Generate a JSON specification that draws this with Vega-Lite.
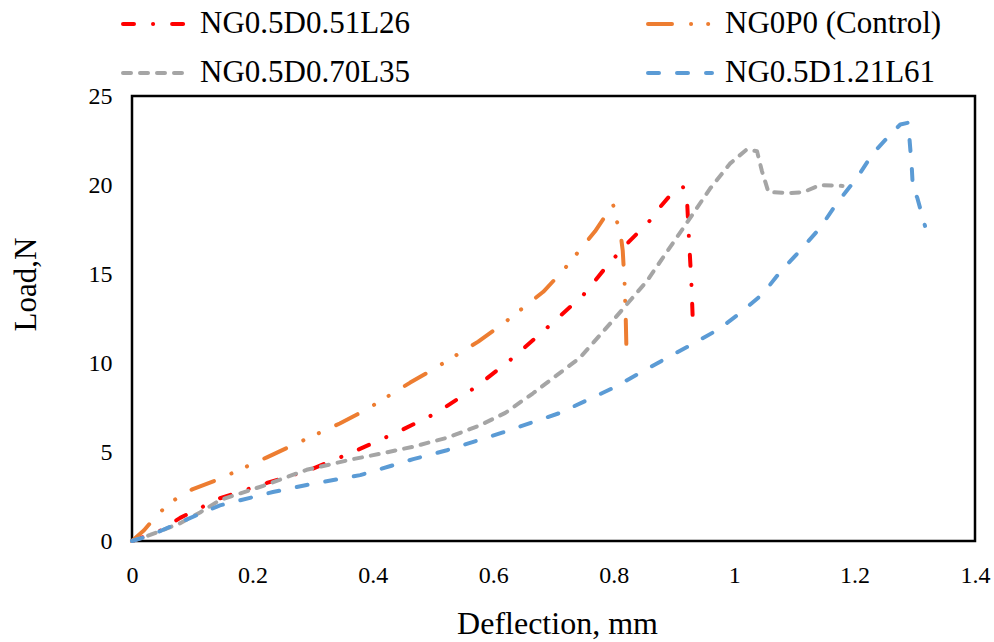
{
  "$schema": "https://vega.github.io/schema/vega-lite/v6.json",
  "width": 843,
  "height": 445,
  "autosize": {"type": "none"},
  "padding": {"left": 132, "top": 96, "right": 19, "bottom": 101},
  "background": "white",
  "config": {
    "view": {"stroke": "black", "strokeWidth": 2.5},
    "font": "Liberation Serif"
  },
  "data": {
    "values": [
      {"s": "NG0.5D0.51L26", "i": 0, "x": 0, "y": 0},
      {"s": "NG0.5D0.51L26", "i": 1, "x": 0.046, "y": 0.56},
      {"s": "NG0.5D0.51L26", "i": 2, "x": 0.08, "y": 1.3},
      {"s": "NG0.5D0.51L26", "i": 3, "x": 0.113, "y": 1.85},
      {"s": "NG0.5D0.51L26", "i": 4, "x": 0.146, "y": 2.4},
      {"s": "NG0.5D0.51L26", "i": 5, "x": 0.224, "y": 3.26},
      {"s": "NG0.5D0.51L26", "i": 6, "x": 0.296, "y": 4.0},
      {"s": "NG0.5D0.51L26", "i": 7, "x": 0.367, "y": 5.0},
      {"s": "NG0.5D0.51L26", "i": 8, "x": 0.44, "y": 6.1},
      {"s": "NG0.5D0.51L26", "i": 9, "x": 0.506, "y": 7.2},
      {"s": "NG0.5D0.51L26", "i": 10, "x": 0.573, "y": 8.7},
      {"s": "NG0.5D0.51L26", "i": 11, "x": 0.633, "y": 10.3},
      {"s": "NG0.5D0.51L26", "i": 12, "x": 0.69, "y": 12.0},
      {"s": "NG0.5D0.51L26", "i": 13, "x": 0.749, "y": 13.8},
      {"s": "NG0.5D0.51L26", "i": 14, "x": 0.79, "y": 15.5},
      {"s": "NG0.5D0.51L26", "i": 15, "x": 0.825, "y": 16.8},
      {"s": "NG0.5D0.51L26", "i": 16, "x": 0.86, "y": 18.0},
      {"s": "NG0.5D0.51L26", "i": 17, "x": 0.878, "y": 18.8},
      {"s": "NG0.5D0.51L26", "i": 18, "x": 0.897, "y": 19.55},
      {"s": "NG0.5D0.51L26", "i": 19, "x": 0.915, "y": 19.9},
      {"s": "NG0.5D0.51L26", "i": 20, "x": 0.922, "y": 19.0},
      {"s": "NG0.5D0.51L26", "i": 21, "x": 0.924, "y": 17.6},
      {"s": "NG0.5D0.51L26", "i": 22, "x": 0.929, "y": 14.5},
      {"s": "NG0.5D0.51L26", "i": 23, "x": 0.932, "y": 11.8},
      {"s": "NG0P0 (Control)", "i": 0, "x": 0, "y": 0},
      {"s": "NG0P0 (Control)", "i": 1, "x": 0.02, "y": 0.6},
      {"s": "NG0P0 (Control)", "i": 2, "x": 0.035, "y": 1.2},
      {"s": "NG0P0 (Control)", "i": 3, "x": 0.055, "y": 1.9},
      {"s": "NG0P0 (Control)", "i": 4, "x": 0.078, "y": 2.5},
      {"s": "NG0P0 (Control)", "i": 5, "x": 0.1, "y": 2.9},
      {"s": "NG0P0 (Control)", "i": 6, "x": 0.146, "y": 3.5},
      {"s": "NG0P0 (Control)", "i": 7, "x": 0.224, "y": 4.7},
      {"s": "NG0P0 (Control)", "i": 8, "x": 0.268, "y": 5.4},
      {"s": "NG0P0 (Control)", "i": 9, "x": 0.345, "y": 6.6},
      {"s": "NG0P0 (Control)", "i": 10, "x": 0.39, "y": 7.4},
      {"s": "NG0P0 (Control)", "i": 11, "x": 0.462, "y": 8.9},
      {"s": "NG0P0 (Control)", "i": 12, "x": 0.503, "y": 9.7},
      {"s": "NG0P0 (Control)", "i": 13, "x": 0.575, "y": 11.2},
      {"s": "NG0P0 (Control)", "i": 14, "x": 0.616, "y": 12.2},
      {"s": "NG0P0 (Control)", "i": 15, "x": 0.683, "y": 14.0},
      {"s": "NG0P0 (Control)", "i": 16, "x": 0.716, "y": 15.2},
      {"s": "NG0P0 (Control)", "i": 17, "x": 0.769, "y": 17.4},
      {"s": "NG0P0 (Control)", "i": 18, "x": 0.799, "y": 18.9},
      {"s": "NG0P0 (Control)", "i": 19, "x": 0.805, "y": 18.0},
      {"s": "NG0P0 (Control)", "i": 20, "x": 0.812, "y": 17.1},
      {"s": "NG0P0 (Control)", "i": 21, "x": 0.815, "y": 16.3},
      {"s": "NG0P0 (Control)", "i": 22, "x": 0.818, "y": 14.5},
      {"s": "NG0P0 (Control)", "i": 23, "x": 0.82, "y": 12.5},
      {"s": "NG0P0 (Control)", "i": 24, "x": 0.821, "y": 11.0},
      {"s": "NG0.5D0.70L35", "i": 0, "x": 0, "y": 0},
      {"s": "NG0.5D0.70L35", "i": 1, "x": 0.03, "y": 0.34},
      {"s": "NG0.5D0.70L35", "i": 2, "x": 0.08, "y": 1.0},
      {"s": "NG0.5D0.70L35", "i": 3, "x": 0.113, "y": 1.6},
      {"s": "NG0.5D0.70L35", "i": 4, "x": 0.146, "y": 2.3},
      {"s": "NG0.5D0.70L35", "i": 5, "x": 0.218, "y": 3.1},
      {"s": "NG0.5D0.70L35", "i": 6, "x": 0.29, "y": 4.0},
      {"s": "NG0.5D0.70L35", "i": 7, "x": 0.367, "y": 4.6},
      {"s": "NG0.5D0.70L35", "i": 8, "x": 0.412, "y": 4.9},
      {"s": "NG0.5D0.70L35", "i": 9, "x": 0.467, "y": 5.3},
      {"s": "NG0.5D0.70L35", "i": 10, "x": 0.523, "y": 5.8},
      {"s": "NG0.5D0.70L35", "i": 11, "x": 0.578, "y": 6.5},
      {"s": "NG0.5D0.70L35", "i": 12, "x": 0.62, "y": 7.2},
      {"s": "NG0.5D0.70L35", "i": 13, "x": 0.666, "y": 8.3},
      {"s": "NG0.5D0.70L35", "i": 14, "x": 0.744, "y": 10.3},
      {"s": "NG0.5D0.70L35", "i": 15, "x": 0.799, "y": 12.4},
      {"s": "NG0.5D0.70L35", "i": 16, "x": 0.855, "y": 14.6},
      {"s": "NG0.5D0.70L35", "i": 17, "x": 0.922, "y": 17.9},
      {"s": "NG0.5D0.70L35", "i": 18, "x": 0.96, "y": 19.8},
      {"s": "NG0.5D0.70L35", "i": 19, "x": 0.993, "y": 21.2},
      {"s": "NG0.5D0.70L35", "i": 20, "x": 1.021, "y": 22.0},
      {"s": "NG0.5D0.70L35", "i": 21, "x": 1.038, "y": 21.9},
      {"s": "NG0.5D0.70L35", "i": 22, "x": 1.046, "y": 20.8},
      {"s": "NG0.5D0.70L35", "i": 23, "x": 1.057, "y": 19.6},
      {"s": "NG0.5D0.70L35", "i": 24, "x": 1.093, "y": 19.55},
      {"s": "NG0.5D0.70L35", "i": 25, "x": 1.115, "y": 19.6},
      {"s": "NG0.5D0.70L35", "i": 26, "x": 1.143, "y": 20.0},
      {"s": "NG0.5D0.70L35", "i": 27, "x": 1.18, "y": 19.95},
      {"s": "NG0.5D1.21L61", "i": 0, "x": 0, "y": 0},
      {"s": "NG0.5D1.21L61", "i": 1, "x": 0.03, "y": 0.3},
      {"s": "NG0.5D1.21L61", "i": 2, "x": 0.063, "y": 0.8},
      {"s": "NG0.5D1.21L61", "i": 3, "x": 0.108, "y": 1.46},
      {"s": "NG0.5D1.21L61", "i": 4, "x": 0.146, "y": 2.0},
      {"s": "NG0.5D1.21L61", "i": 5, "x": 0.234, "y": 2.75},
      {"s": "NG0.5D1.21L61", "i": 6, "x": 0.29, "y": 3.15},
      {"s": "NG0.5D1.21L61", "i": 7, "x": 0.379, "y": 3.7},
      {"s": "NG0.5D1.21L61", "i": 8, "x": 0.428, "y": 4.2},
      {"s": "NG0.5D1.21L61", "i": 9, "x": 0.467, "y": 4.6},
      {"s": "NG0.5D1.21L61", "i": 10, "x": 0.523, "y": 5.1},
      {"s": "NG0.5D1.21L61", "i": 11, "x": 0.616, "y": 6.1},
      {"s": "NG0.5D1.21L61", "i": 12, "x": 0.711, "y": 7.2},
      {"s": "NG0.5D1.21L61", "i": 13, "x": 0.799, "y": 8.6},
      {"s": "NG0.5D1.21L61", "i": 14, "x": 0.889, "y": 10.3},
      {"s": "NG0.5D1.21L61", "i": 15, "x": 0.922, "y": 10.9},
      {"s": "NG0.5D1.21L61", "i": 16, "x": 0.972, "y": 11.85},
      {"s": "NG0.5D1.21L61", "i": 17, "x": 1.01, "y": 12.8},
      {"s": "NG0.5D1.21L61", "i": 18, "x": 1.048, "y": 13.9},
      {"s": "NG0.5D1.21L61", "i": 19, "x": 1.076, "y": 15.1},
      {"s": "NG0.5D1.21L61", "i": 20, "x": 1.109, "y": 16.3},
      {"s": "NG0.5D1.21L61", "i": 21, "x": 1.143, "y": 17.6},
      {"s": "NG0.5D1.21L61", "i": 22, "x": 1.171, "y": 19.0},
      {"s": "NG0.5D1.21L61", "i": 23, "x": 1.204, "y": 20.4},
      {"s": "NG0.5D1.21L61", "i": 24, "x": 1.231, "y": 21.8},
      {"s": "NG0.5D1.21L61", "i": 25, "x": 1.264, "y": 23.0},
      {"s": "NG0.5D1.21L61", "i": 26, "x": 1.276, "y": 23.4},
      {"s": "NG0.5D1.21L61", "i": 27, "x": 1.289, "y": 23.5},
      {"s": "NG0.5D1.21L61", "i": 28, "x": 1.295, "y": 21.0},
      {"s": "NG0.5D1.21L61", "i": 29, "x": 1.297, "y": 19.7},
      {"s": "NG0.5D1.21L61", "i": 30, "x": 1.304, "y": 19.3},
      {"s": "NG0.5D1.21L61", "i": 31, "x": 1.317, "y": 17.7}
    ]
  },
  "mark": {"type": "line", "strokeWidth": 4, "strokeCap": "round", "strokeJoin": "round"},
  "encoding": {
    "x": {
      "field": "x", "type": "quantitative",
      "scale": {"domain": [0, 1.4], "nice": false, "zero": false},
      "axis": {
        "title": "Deflection, mm",
        "values": [0, 0.2, 0.4, 0.6, 0.8, 1, 1.2, 1.4],
        "format": "~g",
        "grid": false, "ticks": false, "tickSize": 0, "domain": false,
        "labelFont": "Liberation Serif", "labelFontSize": 24, "labelColor": "black",
        "labelPadding": 22, "labelFlush": false, "labelOverlap": false,
        "titleFont": "Liberation Serif", "titleFontSize": 32, "titleFontWeight": "normal", "titleColor": "black",
        "titleBaseline": "alphabetic", "titleY": 92, "titleX": 425, "titleAlign": "center"
      }
    },
    "y": {
      "field": "y", "type": "quantitative",
      "scale": {"domain": [0, 25], "nice": false},
      "axis": {
        "title": "Load,N",
        "values": [0, 5, 10, 15, 20, 25],
        "grid": false, "ticks": false, "tickSize": 0, "domain": false,
        "labelFont": "Liberation Serif", "labelFontSize": 24, "labelColor": "black",
        "labelPadding": 20, "labelFlush": false, "labelOverlap": false,
        "titleFont": "Liberation Serif", "titleFontSize": 31, "titleFontWeight": "normal", "titleColor": "black",
        "titleAngle": -90, "titleBaseline": "alphabetic", "titleAlign": "center", "titleX": -97, "titleY": 188
      }
    },
    "color": {
      "field": "s", "type": "nominal",
      "scale": {
        "domain": ["NG0.5D0.51L26", "NG0.5D0.70L35", "NG0P0 (Control)", "NG0.5D1.21L61"],
        "range": ["#FF0000", "#A5A5A5", "#ED7D31", "#5B9BD5"]
      },
      "legend": {
        "title": null,
        "orient": "none", "legendX": -11, "legendY": -95,
        "columns": 2, "columnPadding": 235, "rowPadding": 3,
        "clipHeight": 46,
        "symbolType": "stroke", "symbolSize": 4096, "symbolStrokeWidth": 4,
        "labelFont": "Liberation Serif", "labelFontSize": 31, "labelColor": "black",
        "labelOffset": 11, "labelLimit": 400,
        "encode": {"symbols": {"update": {"strokeCap": {"value": "round"}}}}
      }
    },
    "strokeDash": {
      "field": "s", "type": "nominal",
      "scale": {
        "domain": ["NG0.5D0.51L26", "NG0.5D0.70L35", "NG0P0 (Control)", "NG0.5D1.21L61"],
        "range": [[11, 19, 0.1, 19], [8, 9], [24, 19, 0.1, 17, 0.1, 19], [11, 18]]
      }
    },
    "order": {"field": "i", "type": "quantitative"}
  }
}
